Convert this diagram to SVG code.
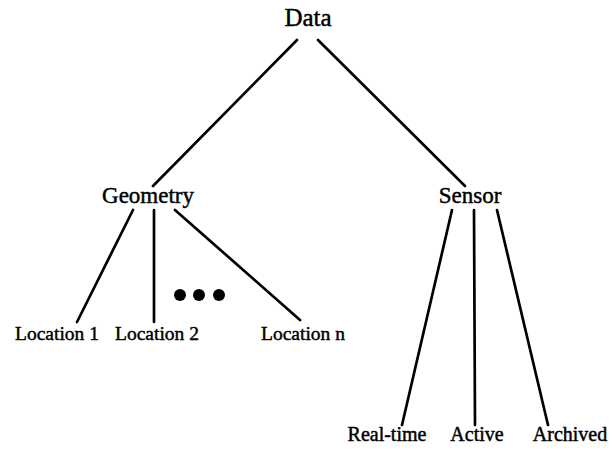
<svg xmlns="http://www.w3.org/2000/svg" width="612" height="451" viewBox="0 0 612 451">
  <style>
    .lbl { font-family: "Liberation Serif", "Times New Roman", serif; fill: #000; stroke: #000; stroke-width: 0.45; text-anchor: middle; }
    .root { font-size: 25px; }
    .mid { font-size: 23px; }
    .leaf { font-size: 19.5px; }
    .leaf2 { font-size: 20px; }
    .edge { stroke: #000; stroke-width: 2.7; stroke-linecap: round; fill: none; }
  </style>
  <rect width="612" height="451" fill="#fff"/>

  <g id="connectors">
    <line class="edge" x1="297" y1="40" x2="153" y2="186"/>
    <line class="edge" x1="318" y1="40" x2="465" y2="186"/>
    <line class="edge" x1="133" y1="210" x2="77" y2="322"/>
    <line class="edge" x1="154" y1="210" x2="154" y2="322"/>
    <line class="edge" x1="175" y1="210" x2="300" y2="320"/>
    <line class="edge" x1="452" y1="210" x2="402" y2="425"/>
    <line class="edge" x1="474" y1="210" x2="475" y2="425"/>
    <line class="edge" x1="497" y1="210" x2="548" y2="425"/>
  </g>

  <g id="data"><text class="lbl root" x="308" y="26">Data</text></g>
  <g id="geometry"><text class="lbl mid" x="148" y="203">Geometry</text></g>
  <g id="sensor"><text class="lbl mid" x="470" y="203">Sensor</text></g>
  <g id="location1"><text class="lbl leaf" x="57" y="340">Location 1</text></g>
  <g id="location2"><text class="lbl leaf" x="157" y="340">Location 2</text></g>
  <g id="ellipsis">
    <circle cx="180" cy="295" r="6"/>
    <circle cx="199" cy="295" r="6"/>
    <circle cx="219" cy="295" r="6"/>
  </g>
  <g id="locationn"><text class="lbl leaf" x="303" y="340">Location n</text></g>
  <g id="realtime"><text class="lbl leaf2" x="387" y="441">Real-time</text></g>
  <g id="active"><text class="lbl leaf2" x="477" y="441">Active</text></g>
  <g id="archived"><text class="lbl leaf2" x="570" y="441">Archived</text></g>
</svg>
